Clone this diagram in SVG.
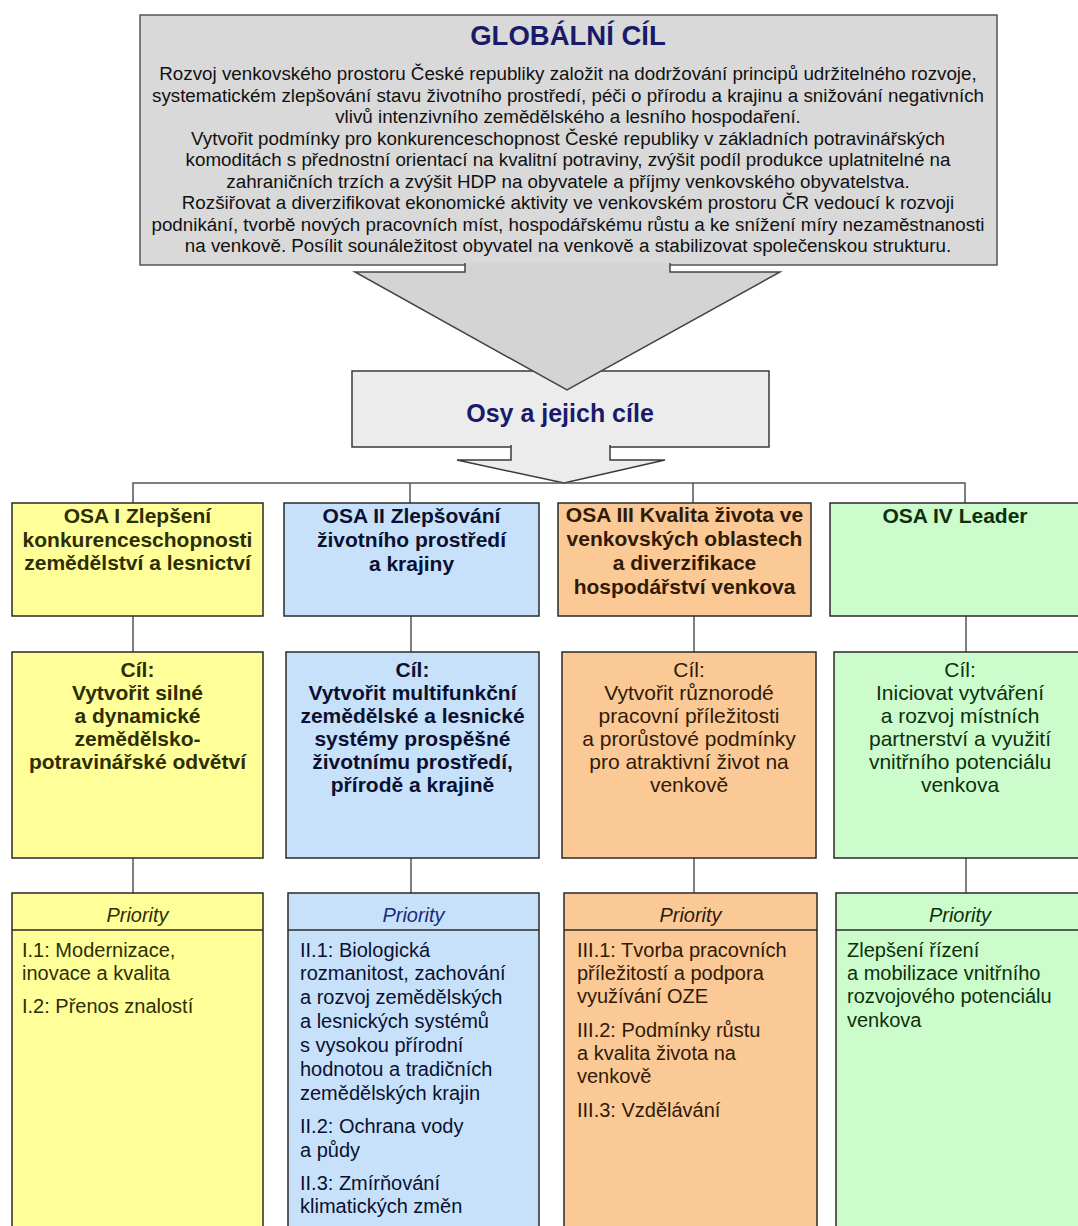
<svg xmlns="http://www.w3.org/2000/svg" width="1078" height="1226" viewBox="0 0 1078 1226">
<style>
  text { font-family: "Liberation Sans", Arial, sans-serif; }
  .box { stroke: #2a2a2a; stroke-width: 1.5; }
  .conn { stroke: #555; stroke-width: 1.5; fill: none; }
  .body { font-size: 18.8px; fill: #111; text-anchor: middle; }
  .hdr { font-size: 21px; font-weight: bold; text-anchor: middle; }
  .cil { font-size: 21px; text-anchor: middle; }
  .pri { font-size: 20px; font-style: italic; text-anchor: middle; }
  .item { font-size: 20px; }
  .c1 { fill: #2e2e05; } .c2 { fill: #0b1030; } .c3 { fill: #301a08; } .c4 { fill: #0c300c; }
  .y { fill: #ffff99; } .b { fill: #c8e1fb; } .o { fill: #fbc995; } .g { fill: #ccfccc; }
</style>
<rect width="1078" height="1226" fill="#ffffff"/>

<g id="global">
  <rect x="140" y="15" width="857" height="250" fill="#d9d9d9" stroke="#555" stroke-width="1.5"/>
  <text x="568" y="45" font-size="27.5" font-weight="bold" fill="#1a1a6b" text-anchor="middle">GLOBÁLNÍ CÍL</text>
  <text class="body" x="568" y="80">Rozvoj venkovského prostoru České republiky založit na dodržování principů udržitelného rozvoje,</text>
  <text class="body" x="568" y="101.5">systematickém zlepšování stavu životního prostředí, péči o přírodu a krajinu a snižování negativních</text>
  <text class="body" x="568" y="123">vlivů intenzivního zemědělského a lesního hospodaření.</text>
  <text class="body" x="568" y="145">Vytvořit podmínky pro konkurenceschopnost České republiky v základních potravinářských</text>
  <text class="body" x="568" y="166">komoditách s přednostní orientací na kvalitní potraviny, zvýšit podíl produkce uplatnitelné na</text>
  <text class="body" x="568" y="188">zahraničních trzích a zvýšit HDP na obyvatele a příjmy venkovského obyvatelstva.</text>
  <text class="body" x="568" y="209">Rozšiřovat a diverzifikovat ekonomické aktivity ve venkovském prostoru ČR vedoucí k rozvoji</text>
  <text class="body" x="568" y="231">podnikání, tvorbě nových pracovních míst, hospodářskému růstu a ke snížení míry nezaměstnanosti</text>
  <text class="body" x="568" y="252">na venkově. Posílit sounáležitost obyvatel na venkově a stabilizovat společenskou strukturu.</text>
</g>

<g id="osy">
  <rect x="352" y="371" width="417" height="76" fill="#ececec" stroke="#3a3a3a" stroke-width="1.5"/>
  <text x="560" y="422" font-size="25" font-weight="bold" fill="#1a1a6b" text-anchor="middle">Osy a jejich cíle</text>
</g>

<g id="connectors">
  <path d="M465,263 V272 H355 L567,390 L780,272 H670 V263" fill="#d4d4d4" stroke="#444" stroke-width="1.5"/>
  <path d="M511,445 V460 H457 L564,483 L665,460 H610 V445" fill="#ececec" stroke="#3a3a3a" stroke-width="1.5"/>
  <path class="conn" d="M133,503 V483 H965 V503 M410,483 V503 M693,483 V503"/>
  <path class="conn" d="M133,616 V652 M411,616 V652 M694,616 V652 M966,616 V652"/>
  <path class="conn" d="M133,858 V893 M411,858 V893 M694,858 V893 M966,858 V893"/>
</g>

<g id="osa1">
  <rect class="box y" x="12" y="503" width="251" height="113"/>
  <text class="hdr c1" x="137.5" y="523">OSA I Zlepšení</text>
  <text class="hdr c1" x="137.5" y="547">konkurenceschopnosti</text>
  <text class="hdr c1" x="137.5" y="570">zemědělství a lesnictví</text>
</g>
<g id="osa2">
  <rect class="box b" x="284" y="503" width="255" height="113"/>
  <text class="hdr c2" x="411.5" y="523">OSA II Zlepšování</text>
  <text class="hdr c2" x="411.5" y="547">životního prostředí</text>
  <text class="hdr c2" x="411.5" y="571">a krajiny</text>
</g>
<g id="osa3">
  <rect class="box o" x="558" y="503" width="253" height="113"/>
  <text class="hdr c3" x="684.5" y="522">OSA III Kvalita života ve</text>
  <text class="hdr c3" x="684.5" y="546">venkovských oblastech</text>
  <text class="hdr c3" x="684.5" y="570">a diverzifikace</text>
  <text class="hdr c3" x="684.5" y="594">hospodářství venkova</text>
</g>
<g id="osa4">
  <rect class="box g" x="830" y="503" width="260" height="113"/>
  <text class="hdr c4" x="955" y="523">OSA IV Leader</text>
</g>

<g id="cil1">
  <rect class="box y" x="12" y="652" width="251" height="206"/>
  <text class="cil c1" font-weight="bold" x="137.5" y="677">Cíl:</text>
  <text class="cil c1" font-weight="bold" x="137.5" y="700">Vytvořit silné</text>
  <text class="cil c1" font-weight="bold" x="137.5" y="723">a dynamické</text>
  <text class="cil c1" font-weight="bold" x="137.5" y="746">zemědělsko-</text>
  <text class="cil c1" font-weight="bold" x="137.5" y="769">potravinářské odvětví</text>
</g>
<g id="cil2">
  <rect class="box b" x="286" y="652" width="253" height="206"/>
  <text class="cil c2" font-weight="bold" x="412.5" y="677">Cíl:</text>
  <text class="cil c2" font-weight="bold" x="412.5" y="700">Vytvořit multifunkční</text>
  <text class="cil c2" font-weight="bold" x="412.5" y="723">zemědělské a lesnické</text>
  <text class="cil c2" font-weight="bold" x="412.5" y="746">systémy prospěšné</text>
  <text class="cil c2" font-weight="bold" x="412.5" y="769">životnímu prostředí,</text>
  <text class="cil c2" font-weight="bold" x="412.5" y="792">přírodě a krajině</text>
</g>
<g id="cil3">
  <rect class="box o" x="562" y="652" width="254" height="206"/>
  <text class="cil c3" x="689" y="677">Cíl:</text>
  <text class="cil c3" x="689" y="700">Vytvořit různorodé</text>
  <text class="cil c3" x="689" y="723">pracovní příležitosti</text>
  <text class="cil c3" x="689" y="746">a prorůstové podmínky</text>
  <text class="cil c3" x="689" y="769">pro atraktivní život na</text>
  <text class="cil c3" x="689" y="792">venkově</text>
</g>
<g id="cil4">
  <rect class="box g" x="834" y="652" width="256" height="206"/>
  <text class="cil c4" x="960" y="677">Cíl:</text>
  <text class="cil c4" x="960" y="700">Iniciovat vytváření</text>
  <text class="cil c4" x="960" y="723">a rozvoj místních</text>
  <text class="cil c4" x="960" y="746">partnerství a využití</text>
  <text class="cil c4" x="960" y="769">vnitřního potenciálu</text>
  <text class="cil c4" x="960" y="792">venkova</text>
</g>

<g id="priority1">
  <rect class="box y" x="12" y="893" width="251" height="350"/>
  <line x1="12" y1="930" x2="263" y2="930" stroke="#2a2a2a" stroke-width="1.5"/>
  <text class="pri c1" x="137.5" y="922">Priority</text>
  <text class="item c1" x="22" y="957">I.1: Modernizace,</text>
  <text class="item c1" x="22" y="980">inovace a kvalita</text>
  <text class="item c1" x="22" y="1013">I.2: Přenos znalostí</text>
</g>
<g id="priority2">
  <rect class="box b" x="288" y="893" width="251" height="350"/>
  <line x1="288" y1="930" x2="539" y2="930" stroke="#2a2a2a" stroke-width="1.5"/>
  <text class="pri" fill="#1a2a7a" x="413.5" y="922">Priority</text>
  <text class="item c2" x="300" y="957">II.1: Biologická</text>
  <text class="item c2" x="300" y="980">rozmanitost, zachování</text>
  <text class="item c2" x="300" y="1004">a rozvoj zemědělských</text>
  <text class="item c2" x="300" y="1028">a lesnických systémů</text>
  <text class="item c2" x="300" y="1052">s vysokou přírodní</text>
  <text class="item c2" x="300" y="1076">hodnotou a tradičních</text>
  <text class="item c2" x="300" y="1100">zemědělských krajin</text>
  <text class="item c2" x="300" y="1133">II.2: Ochrana vody</text>
  <text class="item c2" x="300" y="1157">a půdy</text>
  <text class="item c2" x="300" y="1190">II.3: Zmírňování</text>
  <text class="item c2" x="300" y="1213">klimatických změn</text>
</g>
<g id="priority3">
  <rect class="box o" x="564" y="893" width="253" height="350"/>
  <line x1="564" y1="930" x2="817" y2="930" stroke="#2a2a2a" stroke-width="1.5"/>
  <text class="pri c3" x="690.5" y="922">Priority</text>
  <text class="item c3" x="577" y="957">III.1: Tvorba pracovních</text>
  <text class="item c3" x="577" y="980">příležitostí a podpora</text>
  <text class="item c3" x="577" y="1003">využívání OZE</text>
  <text class="item c3" x="577" y="1037">III.2: Podmínky růstu</text>
  <text class="item c3" x="577" y="1060">a kvalita života na</text>
  <text class="item c3" x="577" y="1083">venkově</text>
  <text class="item c3" x="577" y="1117">III.3: Vzdělávání</text>
</g>
<g id="priority4">
  <rect class="box g" x="836" y="893" width="254" height="350"/>
  <line x1="836" y1="930" x2="1090" y2="930" stroke="#2a2a2a" stroke-width="1.5"/>
  <text class="pri c4" x="960" y="922">Priority</text>
  <text class="item c4" x="847" y="957">Zlepšení řízení</text>
  <text class="item c4" x="847" y="980">a mobilizace vnitřního</text>
  <text class="item c4" x="847" y="1003">rozvojového potenciálu</text>
  <text class="item c4" x="847" y="1027">venkova</text>
</g>
</svg>
